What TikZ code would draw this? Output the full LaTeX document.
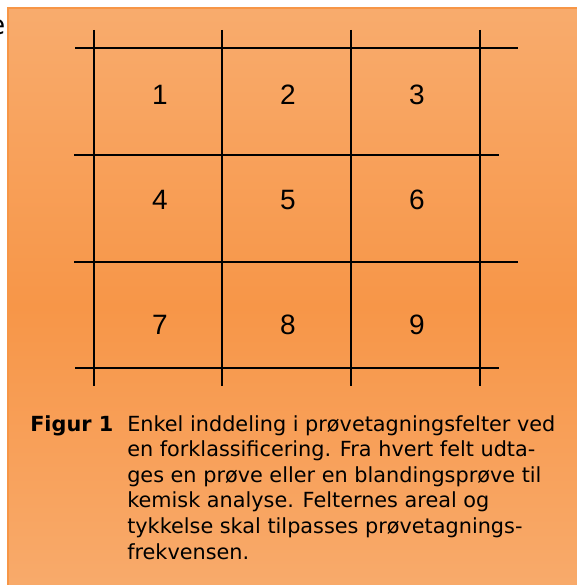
\documentclass[tikz,border=0pt]{standalone}
\usepackage{fontspec}
\setmainfont{DejaVu Sans}
\newfontfamily\digitfont{Liberation Sans}
\definecolor{boxlight}{RGB}{250,193,146}
\definecolor{boxdark}{RGB}{247,150,72}
\definecolor{boxborder}{RGB}{247,150,70}
\pgfdeclareverticalshading{boxshade}{100bp}{color(0bp)=(boxlight); color(50bp)=(boxdark); color(100bp)=(boxlight)}
\begin{document}
\begin{tikzpicture}[x=0.75pt,y=-0.75pt,
  gridline/.style={line width=1.6pt,black},
  digit/.style={font=\digitfont\fontsize{21}{21}\selectfont,inner sep=0pt},
  captext/.style={font=\fontsize{15.6}{19.2}\selectfont,inner sep=0pt}]
\useasboundingbox (0,0) rectangle (576,585);
% box
\shade[shading=boxshade] (8,8) rectangle (620,605);
\draw[boxborder,line width=2pt] (8,605) -- (8,8) -- (620,8);
% cut-off letter
\node[anchor=base east,inner sep=0pt,font=\fontsize{20}{20}\selectfont] (cut) at (5.5,35) {e};
% grid
\foreach \x in {94,222,351,480} \draw[gridline] (\x,30) -- (\x,386);
\draw[gridline] (75,48) -- (518,48);
\draw[gridline] (74,155) -- (499,155);
\draw[gridline] (74,262) -- (518,262);
\draw[gridline] (75,368) -- (499,368);
% digits
\node[digit] (d1) at (160,95) {1};
\node[digit] (d2) at (288,95) {2};
\node[digit] (d3) at (417,95) {3};
\node[digit] (d4) at (160,200) {4};
\node[digit] (d5) at (288,200) {5};
\node[digit] (d6) at (417,200) {6};
\node[digit] (d7) at (160,325) {7};
\node[digit] (d8) at (288,325) {8};
\node[digit] (d9) at (417,325) {9};
% caption
\node[captext,anchor=base west] (fig) at (30,431) {\bfseries Figur 1};
\node[captext,anchor=base west,align=left] (cap) at (127,559) {Enkel inddeling i prøvetagningsfelter ved\\
en forklassificering. Fra hvert felt udta-\\
ges en prøve eller en blandingsprøve til\\
kemisk analyse. Felternes areal og\\
tykkelse skal tilpasses prøvetagnings-\\
frekvensen.};
\end{tikzpicture}
\end{document}
